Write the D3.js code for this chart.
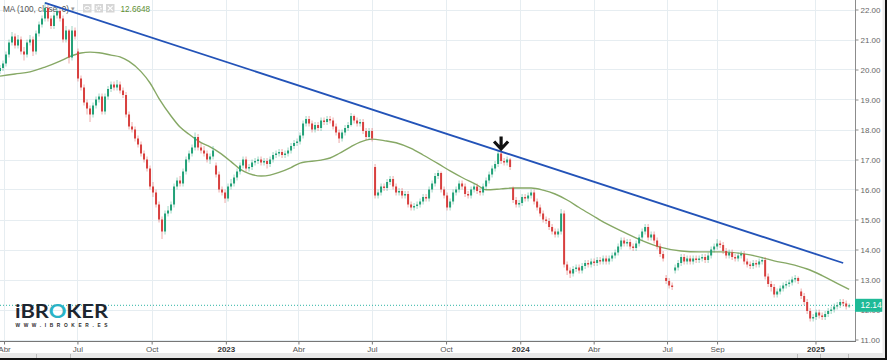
<!DOCTYPE html>
<html><head><meta charset="utf-8">
<script src="https://cdn.jsdelivr.net/npm/d3@7"></script>
<style>html,body{margin:0;padding:0;background:#fff;overflow:hidden}svg{display:block}</style>
</head><body><svg id="c" width="887" height="360"></svg>
<script>
// ---------- DATA ----------
const startDate = [2022, 2, 27];
const periodDays = 3.72;
const opens = [
19.95,20.05,20.2,20.5,20.9,21.1,20.8,21.0,20.6,20.5,
20.9,21.0,20.6,21.2,21.5,21.7,22.05,21.7,21.45,21.8,
21.95,21.7,21.0,21.3,20.4,21.3,20.6,19.7,19.4,18.9,
18.7,18.5,18.8,19.0,19.1,18.6,19.1,19.35,19.5,19.4,
19.5,19.3,19.15,18.5,18.1,18.0,17.7,17.5,17.2,17.0,
16.7,16.1,15.9,15.5,15.0,14.6,15.2,15.3,15.5,16.1,
16.3,16.2,16.6,17.0,17.2,17.4,17.75,17.4,17.3,17.2,
17.0,17.1,16.8,16.5,16.0,15.9,15.7,16.1,16.2,16.4,
16.6,16.8,17.0,16.7,16.75,16.9,16.95,17.0,16.9,16.95,
16.85,17.0,17.15,17.2,17.25,17.15,17.2,17.3,17.45,17.55,
17.6,17.8,18.2,18.35,18.2,18.0,18.15,18.05,18.3,18.25,
18.35,18.3,18.1,17.9,17.7,17.9,18.05,18.15,18.45,18.3,
18.2,18.25,17.95,17.75,17.95,16.75,15.8,15.9,16.1,16.05,
16.25,16.35,16.1,15.9,15.95,15.8,15.85,15.5,15.4,15.45,
15.5,15.6,15.75,15.7,16.0,16.2,16.45,16.55,16.0,15.8,
15.4,15.6,15.9,16.0,16.2,16.1,15.85,15.8,16.0,16.1,
15.95,15.9,16.1,16.3,16.5,16.7,16.85,17.2,16.95,16.9,
17.0,16.05,15.65,15.5,15.55,15.75,15.7,15.8,15.9,15.6,
15.4,15.2,15.0,14.95,14.75,14.6,14.5,14.6,15.2,13.5,
13.3,13.2,13.35,13.4,13.3,13.45,13.55,13.5,13.6,13.55,
13.65,13.6,13.7,13.6,13.7,13.8,13.9,14.1,14.3,14.2,
14.25,14.1,14.05,14.2,14.4,14.6,14.75,14.4,14.5,14.3,
14.1,13.85,13.05,12.95,12.8,13.3,13.4,13.55,13.75,13.6,
13.7,13.6,13.7,13.65,13.7,13.75,13.65,13.8,14.0,14.1,
14.2,14.15,13.95,13.8,13.9,13.75,13.7,13.8,13.85,13.6,
13.5,13.45,13.55,13.5,13.6,13.65,13.1,12.85,12.75,12.5,
12.6,12.7,12.8,12.85,12.9,13.0,13.05,12.6,12.45,12.25,
11.95,11.7,11.75,11.9,11.8,11.75,11.85,11.95,12.0,12.1,
12.15,12.25,12.2,12.1];
const closes = [
20.05,20.2,20.5,20.9,21.1,20.8,21.0,20.6,20.5,20.9,
21.0,20.6,21.2,21.5,21.7,22.05,21.7,21.45,21.8,21.95,
21.7,21.0,21.3,20.4,21.3,21.1,19.7,19.4,18.9,18.7,
18.5,18.8,19.0,19.1,18.6,19.1,19.35,19.5,19.4,19.5,
19.3,19.15,18.5,18.1,18.0,17.7,17.5,17.2,17.0,16.7,
16.1,15.9,15.5,15.0,14.6,15.2,15.3,15.5,16.1,16.3,
16.2,16.6,17.0,17.2,17.4,17.75,17.4,17.3,17.2,17.0,
17.1,17.3,16.5,16.0,15.9,15.7,16.1,16.2,16.4,16.6,
16.8,17.0,16.7,16.75,16.9,16.95,17.0,16.9,16.95,16.85,
17.0,17.15,17.2,17.25,17.15,17.2,17.3,17.45,17.55,17.6,
17.8,18.2,18.35,18.2,18.0,18.15,18.05,18.3,18.25,18.35,
18.3,18.1,17.9,17.7,17.9,18.05,18.15,18.45,18.3,18.2,
18.25,17.95,17.75,17.95,17.7,15.8,15.9,16.1,16.05,16.25,
16.35,16.1,15.9,15.95,15.8,15.85,15.5,15.4,15.45,15.5,
15.6,15.75,15.7,16.0,16.2,16.45,16.55,16.0,15.8,15.4,
15.6,15.9,16.0,16.2,16.1,15.85,15.8,16.0,16.1,15.95,
15.9,16.1,16.3,16.5,16.7,16.85,17.2,16.95,16.9,17.0,
16.75,15.65,15.5,15.55,15.75,15.7,15.8,15.9,15.6,15.4,
15.2,15.0,14.95,14.75,14.6,14.5,14.6,15.2,13.5,13.3,
13.2,13.35,13.4,13.3,13.45,13.55,13.5,13.6,13.55,13.65,
13.6,13.7,13.6,13.7,13.8,13.9,14.1,14.3,14.2,14.25,
14.1,14.05,14.2,14.4,14.6,14.75,14.4,14.5,14.3,14.1,
13.85,13.7,12.95,12.8,12.75,13.4,13.55,13.75,13.6,13.7,
13.6,13.7,13.65,13.7,13.75,13.65,13.8,14.0,14.1,14.2,
14.15,13.95,13.8,13.9,13.75,13.7,13.8,13.85,13.6,13.5,
13.45,13.55,13.5,13.6,13.65,13.1,12.85,12.75,12.5,12.6,
12.7,12.8,12.85,12.9,13.0,13.05,12.95,12.45,12.25,11.95,
11.7,11.75,11.9,11.8,11.75,11.85,11.95,12.0,12.1,12.15,
12.25,12.2,12.1,12.14];
const highs = [
20.15,20.3,20.6,21.0,21.25,21.2,21.15,21.1,20.75,21.0,
21.15,21.1,21.3,21.6,21.8,22.25,22.15,21.8,21.9,22.05,
22.05,21.8,21.45,21.35,21.45,21.4,20.7,19.8,19.5,19.0,
18.8,18.9,19.1,19.2,19.2,19.2,19.45,19.6,19.6,19.65,
19.6,19.4,19.25,18.6,18.25,18.1,17.8,17.6,17.3,17.1,
16.8,16.25,16.0,15.6,15.1,15.3,15.45,15.6,16.2,16.4,
16.45,16.7,17.1,17.3,17.5,17.9,17.85,17.55,17.45,17.3,
17.2,17.45,16.9,16.6,16.1,16.0,16.2,16.35,16.5,16.7,
16.9,17.1,17.1,16.85,17.0,17.05,17.1,17.1,17.05,17.05,
17.1,17.25,17.3,17.35,17.35,17.3,17.4,17.55,17.65,17.7,
17.9,18.3,18.45,18.45,18.3,18.25,18.25,18.4,18.4,18.45,
18.45,18.4,18.2,18.0,18.0,18.15,18.25,18.55,18.5,18.4,
18.35,18.35,18.05,18.05,18.05,16.85,16.0,16.2,16.2,16.35,
16.45,16.45,16.2,16.05,16.05,15.95,15.95,15.6,15.55,15.6,
15.7,15.85,15.85,16.1,16.3,16.55,16.65,16.6,16.1,15.9,
15.7,16.0,16.1,16.3,16.3,16.2,15.95,16.1,16.2,16.2,
16.05,16.2,16.4,16.6,16.8,16.95,17.3,17.25,17.05,17.1,
17.05,16.1,15.75,15.65,15.85,15.85,15.9,16.0,16.0,15.7,
15.5,15.3,15.1,15.05,14.85,14.7,14.7,15.35,15.3,13.6,
13.4,13.45,13.5,13.5,13.55,13.65,13.65,13.7,13.7,13.75,
13.75,13.8,13.8,13.8,13.9,14.0,14.2,14.4,14.4,14.35,
14.35,14.2,14.3,14.5,14.7,14.85,14.85,14.6,14.6,14.4,
14.2,13.95,13.15,13.05,12.9,13.5,13.65,13.85,13.85,13.8,
13.8,13.8,13.8,13.8,13.85,13.85,13.9,14.1,14.2,14.35,
14.3,14.25,14.05,14.0,14.0,13.85,13.9,13.95,13.95,13.7,
13.6,13.65,13.65,13.7,13.75,13.75,13.2,12.95,12.85,12.7,
12.8,12.9,12.95,13.0,13.1,13.15,13.1,12.7,12.55,12.35,
12.05,11.85,12.0,12.0,11.9,11.95,12.05,12.1,12.2,12.25,
12.35,12.35,12.3,12.2];
const lows = [
19.85,19.95,20.1,20.4,20.8,20.7,20.7,20.5,20.3,20.4,
20.8,20.45,20.5,21.1,21.4,21.6,21.6,21.35,21.35,21.7,
21.6,20.9,20.9,20.2,20.3,21.0,19.6,19.3,18.8,18.5,
18.25,18.4,18.7,18.9,18.5,18.5,19.0,19.25,19.3,19.3,
19.2,19.05,18.4,18.0,17.9,17.6,17.4,17.1,16.9,16.6,
16.0,15.75,15.4,14.9,14.35,14.5,15.1,15.2,15.4,16.0,
16.1,16.1,16.5,16.9,17.1,17.3,17.3,17.2,17.1,16.9,
16.85,17.0,16.4,15.9,15.8,15.55,15.6,16.0,16.1,16.3,
16.5,16.7,16.6,16.6,16.65,16.8,16.85,16.8,16.8,16.7,
16.75,16.9,17.05,17.1,17.05,17.05,17.1,17.2,17.35,17.45,
17.5,17.7,18.1,18.1,17.9,17.9,17.95,17.95,18.15,18.15,
18.2,18.0,17.8,17.55,17.6,17.8,17.95,18.1,18.2,18.1,
18.1,17.85,17.65,17.65,17.6,15.7,15.7,15.8,15.95,15.95,
16.15,16.0,15.8,15.8,15.7,15.7,15.4,15.3,15.3,15.35,
15.4,15.5,15.6,15.6,15.9,16.1,16.35,15.9,15.7,15.3,
15.3,15.5,15.8,15.9,16.0,15.75,15.7,15.7,15.9,15.85,
15.8,15.8,16.0,16.2,16.4,16.6,16.75,16.85,16.8,16.8,
16.65,15.55,15.4,15.4,15.45,15.6,15.6,15.7,15.5,15.3,
15.1,14.9,14.85,14.65,14.5,14.4,14.4,14.5,13.4,13.15,
13.05,13.1,13.25,13.2,13.2,13.35,13.4,13.4,13.45,13.45,
13.5,13.5,13.5,13.5,13.6,13.7,13.8,14.0,14.1,14.1,
14.0,13.95,13.95,14.1,14.3,14.5,14.3,14.3,14.2,14.0,
13.75,13.6,12.85,12.7,12.65,13.2,13.3,13.45,13.5,13.5,
13.5,13.5,13.55,13.55,13.6,13.55,13.55,13.7,13.9,14.0,
14.05,13.85,13.7,13.7,13.65,13.6,13.6,13.7,13.5,13.4,
13.35,13.35,13.4,13.4,13.5,13.0,12.75,12.6,12.4,12.4,
12.5,12.6,12.7,12.75,12.8,12.9,12.85,12.35,12.15,11.85,
11.6,11.6,11.65,11.7,11.65,11.65,11.75,11.85,11.9,12.0,
12.05,12.1,12.0,12.05];
// MA(100) read at these candle indexes
const maIndex = [0,5,10,15,20,23,27,30,33,37,40,43,47,50,53,57,60,63,67,70,73,77,80,83,87,90,93,97,100,107,110,113,117,120,124,128,132,137,141,146,150,154,159,162,167,171,177,181,185,189,193,198,200,207,213,220,227,233,240,247,250,254,258,263,269,274,280,283];
const maValues = [19.78,19.85,19.92,20.08,20.28,20.42,20.55,20.58,20.56,20.48,20.42,20.27,19.93,19.55,19.03,18.45,18.08,17.84,17.56,17.42,17.24,16.93,16.68,16.53,16.45,16.48,16.57,16.73,16.88,16.98,17.05,17.2,17.43,17.58,17.68,17.63,17.56,17.37,17.15,16.86,16.62,16.4,16.15,15.99,16.02,16.05,16.05,15.98,15.85,15.65,15.4,15.1,14.98,14.62,14.34,14.08,13.95,13.92,13.92,13.87,13.82,13.73,13.62,13.52,13.35,13.13,12.82,12.67];
const trendIndex = [15, 281];
const trendValues = [22.22, 13.55];
const arrowIndex = 167;
const arrowValue = 17.3;
const lastPrice = 12.14;
const legendLabel = "MA (100, close, 0)";
const legendValue = "12.6648";
const yTicks = [11,12,13,14,15,16,17,18,19,20,21,22];
const xTickDates = ["2022-04-01","2022-07-01","2022-10-01","2023-01-01","2023-04-01","2023-07-01","2023-10-01","2024-01-01","2024-04-01","2024-07-01","2024-09-01","2025-01-01"];
const xTickLabels = ["Abr","Jul","Oct","2023","Abr","Jul","Oct","2024","Abr","Jul","Sep","2025"];

// ---------- CHART ----------
const svg = d3.select("#c");
const PW = 855, PB = 341;
const FONT = "'Liberation Sans', Arial, sans-serif";
const parse = s => { const [a,b,c] = s.split("-").map(Number); return new Date(a, b-1, c); };
const t0 = new Date(startDate[0], startDate[1], startDate[2]);
const dateAt = i => new Date(t0.getTime() + i * periodDays * 86400000);

const x = d3.scaleTime().domain([new Date(2022,2,27), new Date(2025,1,19)]).range([0, PW]);
const y = d3.scaleLinear().domain([11, 22]).range([339.5, 9.5]);

const candles = closes.map((c, i) => ({ d: dateAt(i), o: opens[i], h: highs[i], l: lows[i], c }));
const tickDates = xTickDates.map(parse);

svg.append("rect").attr("width", 887).attr("height", 360).attr("fill", "#fff");

// grid
const grid = svg.append("g").attr("stroke", "#e6edf1").attr("stroke-width", 1);
grid.selectAll(".h").data(yTicks).join("line")
  .attr("x1", 0).attr("x2", PW).attr("y1", d => Math.round(y(d)) + 0.5).attr("y2", d => Math.round(y(d)) + 0.5);
grid.selectAll(".v").data(tickDates).join("line")
  .attr("y1", 0).attr("y2", PB).attr("x1", d => Math.round(x(d)) + 0.5).attr("x2", d => Math.round(x(d)) + 0.5);

// legend
const lg = svg.append("g").attr("font-family", FONT).attr("font-size", 8.2);
lg.append("text").attr("x", 3).attr("y", 12).attr("fill", "#555").text(legendLabel);
lg.append("text").attr("x", 71).attr("y", 11).attr("fill", "#999").attr("font-size", 7).text("▾");
[83, 94.5, 106].forEach(bx => lg.append("rect").attr("x", bx).attr("y", 4).attr("width", 8.5).attr("height", 8.5).attr("fill", "#d6d6d6"));
lg.append("ellipse").attr("cx", 87.2).attr("cy", 8.2).attr("rx", 2.8).attr("ry", 1.8).attr("fill", "none").attr("stroke", "#fff").attr("stroke-width", 1);
lg.append("circle").attr("cx", 98.7).attr("cy", 8.2).attr("r", 2.3).attr("fill", "none").attr("stroke", "#fff").attr("stroke-width", 1.4).attr("stroke-dasharray", "1.2,0.6");
lg.append("path").attr("d", "M107.8,5.8L112.7,10.7M112.7,5.8L107.8,10.7").attr("stroke", "#fff").attr("stroke-width", 1.2);
lg.append("text").attr("x", 120.5).attr("y", 12).attr("fill", "#5f8f32").text(legendValue);

// plot clip
svg.append("defs").append("clipPath").attr("id", "pc").append("rect").attr("x", 0).attr("y", 0).attr("width", PW).attr("height", PB);
const plot = svg.append("g").attr("clip-path", "url(#pc)");

// last price dotted line
plot.append("line").attr("x1", 0).attr("x2", PW).attr("y1", y(lastPrice)).attr("y2", y(lastPrice))
  .attr("stroke", "#2cb3a3").attr("stroke-width", 1).attr("stroke-dasharray", "1,2");

// MA line
const maPts = maIndex.map((k, i) => [dateAt(k), maValues[i]]);
plot.append("path").datum(maPts)
  .attr("d", d3.line().x(d => x(d[0])).y(d => y(d[1])).curve(d3.curveMonotoneX))
  .attr("fill", "none").attr("stroke", "#86a865").attr("stroke-width", 1.4);

// candles
const UP = "#23a178", DN = "#d8403f";
const cg = plot.append("g");
cg.selectAll("line").data(candles).join("line")
  .attr("x1", d => x(d.d)).attr("x2", d => x(d.d))
  .attr("y1", d => y(d.h)).attr("y2", d => y(d.l))
  .attr("stroke", d => d.c >= d.o ? UP : DN).attr("stroke-opacity", 0.45).attr("stroke-width", 1);
cg.selectAll("rect").data(candles).join("rect")
  .attr("x", d => x(d.d) - 1).attr("width", 2)
  .attr("y", d => y(Math.max(d.o, d.c)))
  .attr("height", d => Math.max(1, Math.abs(y(d.o) - y(d.c))))
  .attr("fill", d => d.c >= d.o ? UP : DN);

// trend line
plot.append("line")
  .attr("x1", x(dateAt(trendIndex[0]))).attr("y1", y(trendValues[0]))
  .attr("x2", x(dateAt(trendIndex[1]))).attr("y2", y(trendValues[1]))
  .attr("stroke", "#2353b8").attr("stroke-width", 1.8);

// arrow
const ax = x(dateAt(arrowIndex)), ay = y(arrowValue);
svg.append("path").attr("transform", `translate(${ax},${ay})`)
  .attr("d", "M0,-14L0,-2M-7,-9L0,-1.5L7,-9")
  .attr("fill", "none").attr("stroke", "#111").attr("stroke-width", 3.2).attr("stroke-linejoin", "miter");

// right axis
svg.append("line").attr("x1", PW + 0.5).attr("x2", PW + 0.5).attr("y1", 0).attr("y2", PB).attr("stroke", "#8c8c8c");
const ra = svg.append("g").attr("transform", `translate(${PW + 0.5},0)`)
  .call(d3.axisRight(y).tickValues(yTicks).tickSize(3).tickPadding(2).tickFormat(d3.format(".2f")));
ra.select(".domain").remove();
ra.selectAll("line").attr("stroke", "#8c8c8c");
ra.selectAll("text").attr("font-family", FONT).attr("font-size", 8).attr("fill", "#666");

// bottom axis
svg.append("line").attr("x1", 0).attr("x2", PW + 1).attr("y1", PB + 0.5).attr("y2", PB + 0.5).attr("stroke", "#777");
const ba = svg.append("g").attr("transform", `translate(0,${PB + 0.5})`)
  .call(d3.axisBottom(x).tickValues(tickDates).tickSize(3).tickPadding(2).tickFormat((d, i) => xTickLabels[i]));
ba.select(".domain").remove();
ba.selectAll("line").attr("stroke", "#777");
ba.selectAll("text").attr("font-family", FONT).attr("font-size", 8)
  .attr("fill", (d, i) => /^\d/.test(xTickLabels[i]) ? "#333" : "#555")
  .attr("font-weight", (d, i) => /^\d/.test(xTickLabels[i]) ? "bold" : "normal");

// last price label
const ly = y(lastPrice);
svg.append("rect").attr("x", PW).attr("y", ly - 6.5).attr("width", 27.5).attr("height", 13).attr("fill", "#1fba97");
svg.append("text").attr("x", PW + 5.5).attr("y", ly + 3).attr("fill", "#fff")
  .attr("font-family", FONT).attr("font-size", 8.5).text(lastPrice.toFixed(2));

// frame
svg.append("rect").attr("x", 0).attr("y", 353).attr("width", 887).attr("height", 5).attr("fill", "#e8e8e8");
svg.append("rect").attr("x", 0).attr("y", 358).attr("width", 887).attr("height", 2).attr("fill", "#111");
svg.append("rect").attr("x", 882.5).attr("y", 0).attr("width", 2.5).attr("height", 358).attr("fill", "#ececec");
svg.append("rect").attr("x", 885).attr("y", 0).attr("width", 2).attr("height", 360).attr("fill", "#111");
[36, 70, 797, 820, 848].forEach(sx => svg.append("line").attr("x1", sx + 0.5).attr("x2", sx + 0.5).attr("y1", 354).attr("y2", 358).attr("stroke", "#bbb"));

// logo
const logo = svg.append("g");
const lt = logo.append("text").attr("x", 15).attr("y", 318).attr("font-family", "Lato, 'Open Sans', sans-serif")
  .attr("font-weight", 700).attr("font-size", 19).attr("fill", "#1d2630")
  .attr("textLength", 93).attr("lengthAdjust", "spacingAndGlyphs");
lt.append("tspan").text("iBR");
lt.append("tspan").attr("fill", "#2ab3c6").text("O");
lt.append("tspan").text("KER");
logo.append("text").attr("x", 15.5).attr("y", 326.5).attr("font-family", FONT).attr("font-weight", 700)
  .attr("font-size", 4.8).attr("fill", "#2a2a2a").attr("textLength", 92).attr("lengthAdjust", "spacing")
  .text("WWW.IBROKER.ES");
</script>
</body></html>
